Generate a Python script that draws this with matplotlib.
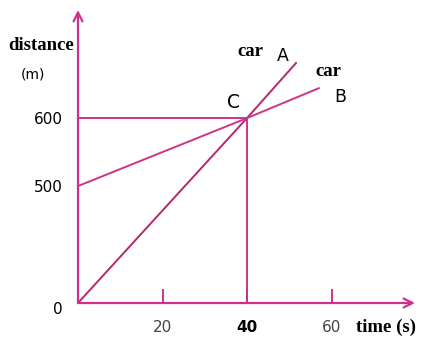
import numpy as np
import matplotlib
matplotlib.use("Agg")
import matplotlib.pyplot as plt
import matplotlib.transforms as mtransforms

# data
time_a = [0, 40, 51.6]
dist_a = [0, 600, 681]
time_b = [0, 40, 57.0]
dist_b = [500, 600, 644]
point_c = (40, 600)
x_ticks = [20, 40, 60]
y_ticks = [0, 500, 600]

MAGENTA = "#d0308a"
LINE_A = "#b3286f"
LINE_B = "#d23384"

W, H = 423, 337


# y axis is not to scale: 0-500 squeezed, above 500 stretched
def fwd(y):
    y = np.asarray(y, dtype=float)
    return np.where(y < 500, y * 117 / 500, 117 + (y - 500) * 0.68)


def inv(p):
    p = np.asarray(p, dtype=float)
    return np.where(p < 117, p * 500 / 117, 500 + (p - 117) / 0.68)


def pix(x, y):
    return x / W, 1 - y / H


fig = plt.figure(figsize=(W / 100, H / 100), dpi=100)
ax = fig.add_axes([78 / W, 34 / H, (415 - 78) / W, (303 - 10) / H])
ax.set_yscale("function", functions=(fwd, inv))
ax.set_xlim(0, (415 - 78) / 4.225)
ax.set_ylim(0, 759)

for s in ax.spines.values():
    s.set_visible(False)

# axes with open arrow heads
ax.annotate("", xy=(1, 0), xytext=(0, 0), xycoords="axes fraction",
            arrowprops=dict(arrowstyle="->", color=MAGENTA, lw=1.6,
                            mutation_scale=16, shrinkA=0, shrinkB=0))
ax.annotate("", xy=(0, 1), xytext=(0, 0), xycoords="axes fraction",
            arrowprops=dict(arrowstyle="->", color=MAGENTA, lw=1.6,
                            mutation_scale=16, shrinkA=0, shrinkB=0))

# guide lines to C
ax.plot([0, point_c[0]], [point_c[1], point_c[1]], color=MAGENTA, lw=1.4)
ax.plot([point_c[0], point_c[0]], [0, point_c[1]], color=MAGENTA, lw=1.4)

ax.plot(time_a, dist_a, color=LINE_A, lw=1.4)
ax.plot(time_b, dist_b, color=LINE_B, lw=1.4)

ax.set_xticks(x_ticks)
ax.set_xticklabels([str(t) for t in x_ticks], fontsize=11, color="#444444")
ax.tick_params(axis="x", direction="in", length=10, width=1.4,
               color=MAGENTA, pad=12)
ax.get_xticklabels()[1].set_fontweight("bold")
ax.get_xticklabels()[1].set_color("black")

ax.set_yticks(y_ticks)
ax.set_yticklabels([str(t) for t in y_ticks], fontsize=11)
ax.tick_params(axis="y", length=0, pad=11)
zero_lbl = ax.get_yticklabels()[0]
zero_lbl.set_transform(zero_lbl.get_transform() +
                       mtransforms.ScaledTranslation(0, -5 / 100, fig.dpi_scale_trans))
ax.set_facecolor("none")

serif = dict(family="Liberation Serif", fontweight="bold", fontsize=13.5)
fig.text(*pix(41, 45), "distance", ha="center", va="center", **serif)
fig.text(*pix(33, 74), "(m)", ha="center", va="center", fontsize=10)
fig.text(*pix(386, 327), "time (s)", ha="center", va="center", **serif)
fig.text(*pix(250, 52), "car", ha="center", va="center", **serif)
fig.text(*pix(283, 56), "A", ha="center", va="center", fontsize=12.5)
fig.text(*pix(328, 72), "car", ha="center", va="center", **serif)
fig.text(*pix(340, 97), "B", ha="center", va="center", fontsize=12.5)
fig.text(*pix(233, 102), "C", ha="center", va="center", fontsize=13.5)

fig.savefig("out.png", dpi=100)
